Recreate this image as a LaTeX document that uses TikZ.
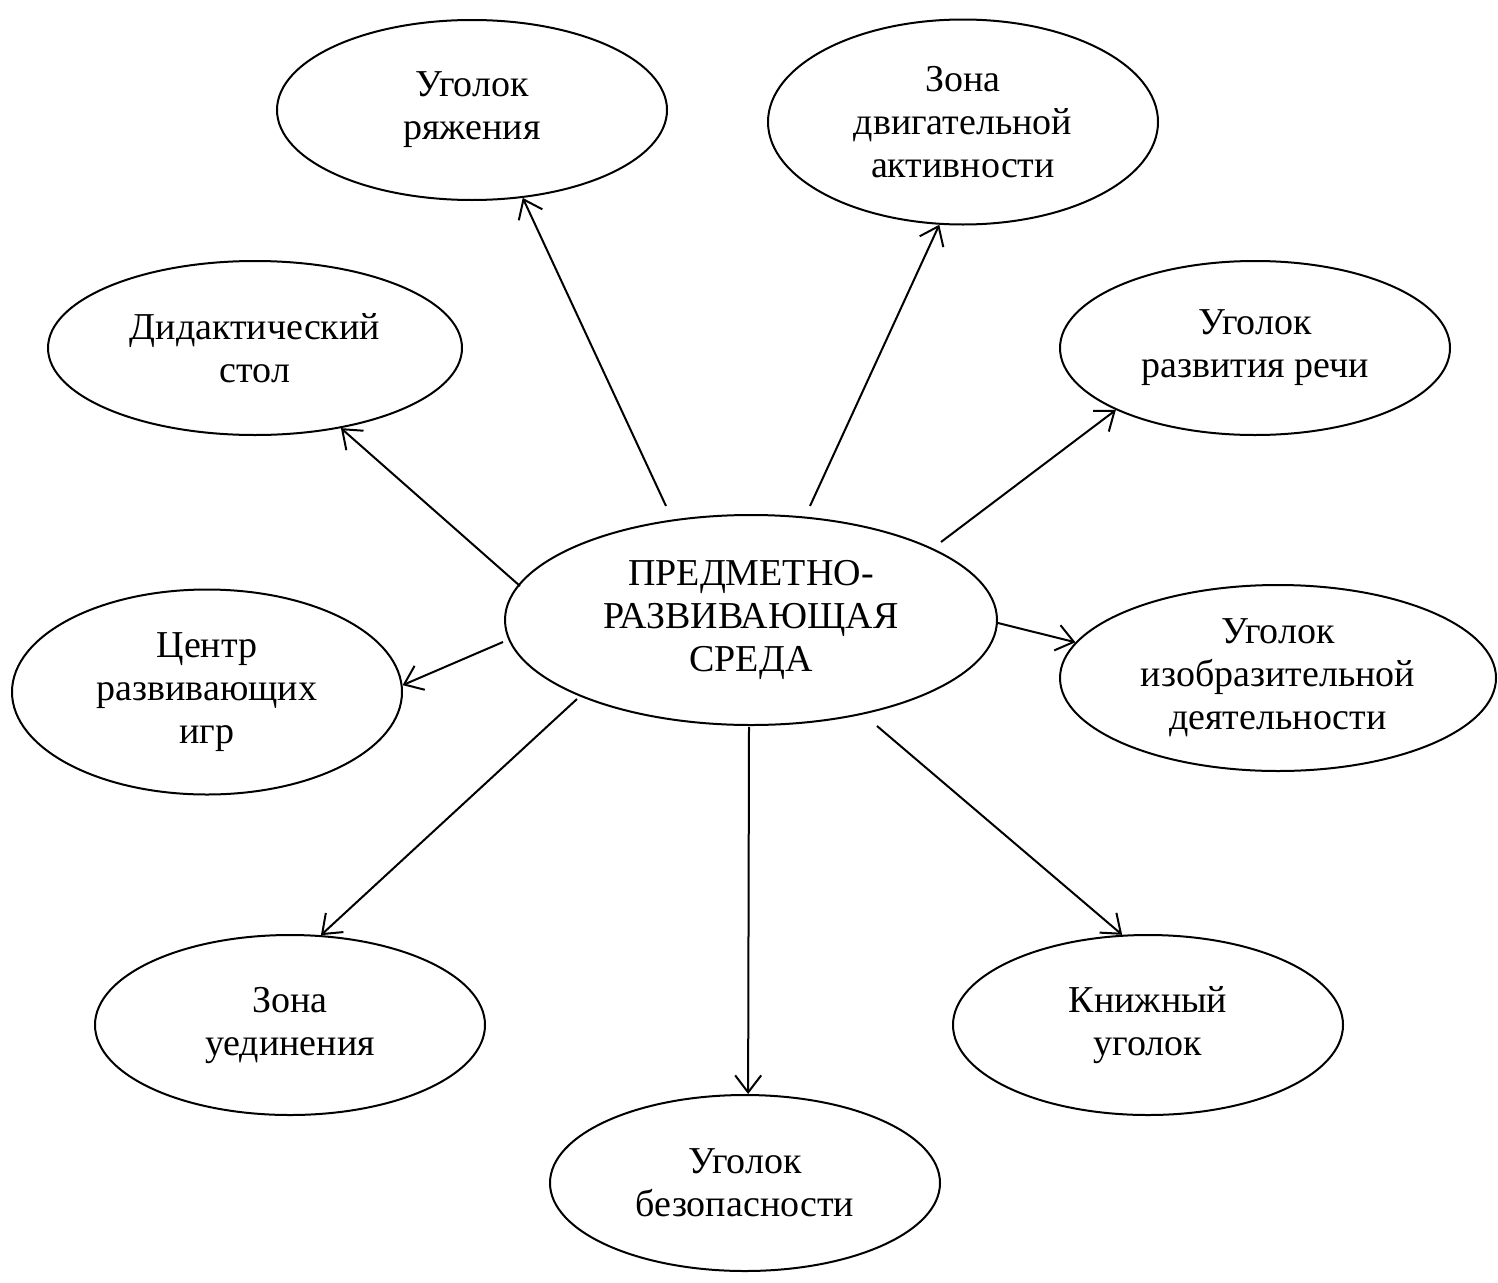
\documentclass[tikz,border=0pt]{standalone}
\usepackage{fontspec}
\setmainfont{Liberation Serif}
\usetikzlibrary{shapes.geometric,arrows.meta}
\begin{document}
\begin{tikzpicture}[x=1pt,y=-1pt,
 el/.style={draw,ellipse,line width=2pt,inner sep=0pt,align=center,font=\fontsize{38}{43}\selectfont},
 arr/.style={-{Straight Barb[length=17pt,width=26pt,line width=2pt]},line width=2pt}]
\useasboundingbox (0,0) rectangle (1498,1282);
\node[el,minimum width=390pt,minimum height=180pt] (n1) at (472,110) {Уголок\\ряжения};
\node[el,minimum width=390pt,minimum height=205pt] (n2) at (963,122) {Зона\\двигательной\\активности};
\node[el,minimum width=414pt,minimum height=174pt] (n3) at (255,348) {Дидактический\\стол};
\node[el,minimum width=390pt,minimum height=174pt] (n4) at (1255,348) {Уголок\\развития речи};
\node[el,minimum width=492pt,minimum height=210pt] (c) at (751,620) {ПРЕДМЕТНО-\\РАЗВИВАЮЩАЯ\\СРЕДА};
\node[el,minimum width=390pt,minimum height=205pt] (n6) at (207,692) {Центр\\развивающих\\игр};
\node[el,minimum width=436pt,minimum height=186pt] (n7) at (1278,678) {Уголок\\изобразительной\\деятельности};
\node[el,minimum width=390pt,minimum height=180pt] (n8) at (290,1025) {Зона\\уединения};
\node[el,minimum width=390pt,minimum height=180pt] (n9) at (1148,1025) {Книжный\\уголок};
\node[el,minimum width=390pt,minimum height=176pt] (n10) at (745,1183) {Уголок\\безопасности};
\coordinate (s1) at (666,506);
\coordinate (s2) at (810,506);
\coordinate (s3) at (520,586);
\coordinate (s4) at (941,542);
\coordinate (s5) at (503,642);
\coordinate (s6) at (998,623);
\coordinate (s7) at (577,699);
\coordinate (s8) at (749,727);
\coordinate (s9) at (877,726);
\draw[arr] (s1) -- (n1.-60.5);
\draw[arr] (s2) -- (n2.-103);
\draw[arr] (s3) -- (n3.-43.4);
\draw[arr] (s4) -- (n4.-156);
\draw[arr] (s5) -- (n6.2);
\draw[arr] (s6) -- (n7.170);
\draw[arr] (s7) -- (n8.71);
\draw[arr] (s8) -- (n10.88);
\draw[arr] (s9) -- (n9.106.7);
\end{tikzpicture}
\end{document}
